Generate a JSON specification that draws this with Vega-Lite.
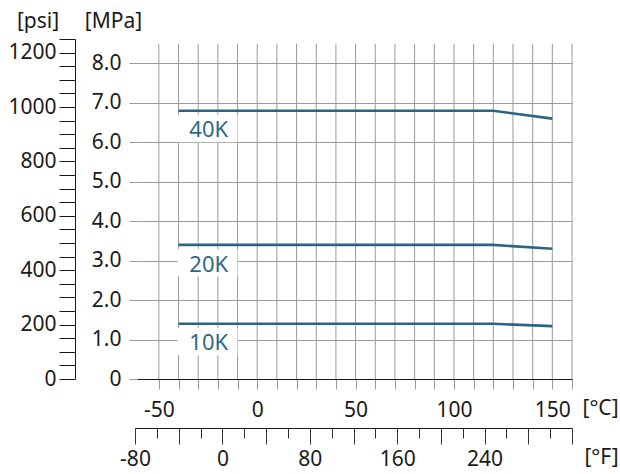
{
  "$schema": "https://vega.github.io/schema/vega-lite/v6.json",
  "width": 435,
  "height": 340,
  "autosize": {"type": "none"},
  "padding": {"left": 137, "top": 39, "right": 48, "bottom": 95},
  "background": "white",
  "config": {
    "view": {"stroke": null},
    "font": "Noto Sans",
    "axis": {
      "labelFont": "Noto Sans",
      "titleFont": "Noto Sans",
      "labelColor": "#1a1a1a",
      "titleColor": "#1a1a1a",
      "titleFontWeight": "normal",
      "labelFontSize": 21,
      "titleFontSize": 21,
      "labelOverlap": false,
      "labelBound": false,
      "labelFlush": false
    }
  },
  "datasets": {
    "curves": [
      {"grade": "40K", "t": -40, "p": 6.8},
      {"grade": "40K", "t": 120, "p": 6.8},
      {"grade": "40K", "t": 150, "p": 6.6},
      {"grade": "20K", "t": -40, "p": 3.4},
      {"grade": "20K", "t": 120, "p": 3.4},
      {"grade": "20K", "t": 150, "p": 3.3},
      {"grade": "10K", "t": -40, "p": 1.4},
      {"grade": "10K", "t": 120, "p": 1.4},
      {"grade": "10K", "t": 150, "p": 1.34}
    ],
    "labels": [
      {"grade": "40K", "t": -34.5, "p": 6.3, "t0": -40.5, "t1": -10, "p0": 6.0, "p1": 6.69},
      {"grade": "20K", "t": -34.5, "p": 2.9, "t0": -40.5, "t1": -10, "p0": 2.6, "p1": 3.29},
      {"grade": "10K", "t": -34.5, "p": 0.9, "t0": -40.5, "t1": -10, "p0": 0.6, "p1": 1.29}
    ],
    "cgrid": [
      {"t": -50}, {"t": -40}, {"t": -30}, {"t": -20}, {"t": -10}, {"t": 0},
      {"t": 10}, {"t": 20}, {"t": 30}, {"t": 40}, {"t": 50}, {"t": 60},
      {"t": 70}, {"t": 80}, {"t": 90}, {"t": 100}, {"t": 110}, {"t": 120},
      {"t": 130}, {"t": 140}, {"t": 150}, {"t": 160}
    ],
    "psi": [{"v": 0}, {"v": 1250}],
    "fahr": [{"f": -80}, {"f": 320}]
  },
  "layer": [
    {
      "layer": [
        {
          "data": {"name": "cgrid"},
          "mark": {"type": "rule", "color": "#9a9a9a", "strokeWidth": 1},
          "encoding": {
            "x": {
              "field": "t",
              "type": "quantitative",
              "scale": {"domain": [-61.1, 160], "nice": false, "zero": false},
              "axis": {
                "orient": "bottom",
                "values": [-50, -40, -30, -20, -10, 0, 10, 20, 30, 40, 50, 60, 70, 80, 90, 100, 110, 120, 130, 140, 150, 160],
                "labels": false,
                "grid": false,
                "domainColor": "#1a1a1a",
                "domainWidth": 1,
                "tickColor": "#9a9a9a",
                "tickSize": 10,
                "title": "[°C]",
                "titleAngle": 0,
                "titleAlign": "center",
                "titleBaseline": "middle",
                "titleX": 463,
                "titleY": 29
              }
            },
            "y": {
              "datum": 0,
              "type": "quantitative",
              "scale": {"domain": [0, 8.6184], "nice": false, "zero": true},
              "axis": {
                "orient": "left",
                "values": [0, 0.5, 1, 1.5, 2, 2.5, 3, 3.5, 4, 4.5, 5, 5.5, 6, 6.5, 7, 7.5, 8],
                "labelExpr": "datum.value == 0 ? '0' : (datum.value % 1 == 0 ? format(datum.value, '.1f') : '')",
                "labelOverlap": false,
                "grid": true,
                "gridColor": "#9a9a9a",
                "gridWidth": 1,
                "domain": false,
                "tickColor": "#9a9a9a",
                "tickSize": 8,
                "labelPadding": 8,
                "title": "[MPa]",
                "titleAngle": 0,
                "titleAlign": "center",
                "titleBaseline": "middle",
                "titleX": -24,
                "titleY": -18
              }
            },
            "y2": {"datum": 8.5}
          }
        },
        {
          "data": {"name": "labels"},
          "mark": {"type": "rect", "fill": "white"},
          "encoding": {
            "x": {"field": "t0", "type": "quantitative", "axis": null},
            "x2": {"field": "t1"},
            "y": {"field": "p0", "type": "quantitative"},
            "y2": {"field": "p1"}
          }
        },
        {
          "data": {"name": "curves"},
          "mark": {"type": "line", "color": "#2e6480", "strokeWidth": 2.6},
          "encoding": {
            "x": {
              "field": "t",
              "type": "quantitative",
              "axis": {
                "orient": "bottom",
                "values": [-50, 0, 50, 100, 150],
                "labelExpr": "'' + datum.value",
                "ticks": false,
                "domain": false,
                "grid": false,
                "labelBaseline": "middle",
                "labelPadding": 31,
                "title": null
              }
            },
            "y": {"field": "p", "type": "quantitative"},
            "detail": {"field": "grade"}
          }
        },
        {
          "data": {"name": "labels"},
          "mark": {"type": "text", "align": "left", "baseline": "middle", "fontSize": 22, "color": "#2f6886", "font": "Noto Sans"},
          "encoding": {
            "x": {"field": "t", "type": "quantitative", "axis": null},
            "y": {"field": "p", "type": "quantitative"},
            "text": {"field": "grade"}
          }
        },
        {
          "mark": {"type": "rule", "color": "#1a1a1a", "strokeWidth": 1},
          "encoding": {
            "x": {"datum": -61.1, "type": "quantitative", "axis": null},
            "y": {"datum": 0, "type": "quantitative"},
            "y2": {"datum": 8.5}
          }
        }
      ],
      "resolve": {"axis": {"x": "independent"}}
    },
    {
      "data": {"name": "psi"},
      "mark": {"type": "point", "opacity": 0},
      "encoding": {
        "y": {
          "field": "v",
          "type": "quantitative",
          "scale": {"domain": [0, 1250], "nice": false},
          "axis": {
            "orient": "left",
            "offset": 62,
            "values": [0, 50, 100, 150, 200, 250, 300, 350, 400, 450, 500, 550, 600, 650, 700, 750, 800, 850, 900, 950, 1000, 1050, 1100, 1150, 1200, 1250],
            "labelExpr": "datum.value % 200 == 0 ? '' + datum.value : ''",
            "labelOverlap": false,
            "grid": false,
            "domainColor": "#1a1a1a",
            "tickColor": "#1a1a1a",
            "tickSize": 16,
            "labelPadding": 3,
            "title": "[psi]",
            "titleAngle": 0,
            "titleAlign": "center",
            "titleBaseline": "middle",
            "titleX": -37.5,
            "titleY": -18
          }
        }
      }
    },
    {
      "data": {"name": "fahr"},
      "mark": {"type": "point", "opacity": 0},
      "encoding": {
        "x": {
          "field": "f",
          "type": "quantitative",
          "scale": {"domain": [-80, 320], "range": [-2, 435], "nice": false, "zero": false},
          "axis": {
            "orient": "bottom",
            "offset": 49,
            "values": [-80, -40, 0, 40, 80, 120, 160, 200, 240, 280, 320],
            "labelExpr": "datum.value % 80 == 0 && datum.value < 300 ? '' + datum.value : ''",
            "labelOverlap": false,
            "labelBound": false,
            "grid": false,
            "domainColor": "#1a1a1a",
            "tickColor": "#333333",
            "tickSize": 16,
            "labelBaseline": "middle",
            "labelPadding": 15,
            "title": "[°F]",
            "titleAngle": 0,
            "titleAlign": "center",
            "titleBaseline": "middle",
            "titleX": 464,
            "titleY": 29
          }
        }
      }
    },
    {
      "data": {"name": "fahr"},
      "mark": {"type": "point", "opacity": 0},
      "encoding": {
        "x": {
          "field": "f",
          "type": "quantitative",
          "scale": {"domain": [-80, 320], "range": [-2, 435], "nice": false, "zero": false},
          "axis": {
            "orient": "bottom",
            "offset": 49,
            "values": [-60, -20, 20, 60, 100, 140, 180, 220, 260, 300],
            "labels": false,
            "grid": false,
            "domain": false,
            "tickColor": "#333333",
            "tickSize": 10,
            "title": null
          }
        }
      }
    }
  ],
  "resolve": {
    "scale": {"x": "independent", "y": "independent"},
    "axis": {"x": "independent", "y": "independent"}
  }
}
